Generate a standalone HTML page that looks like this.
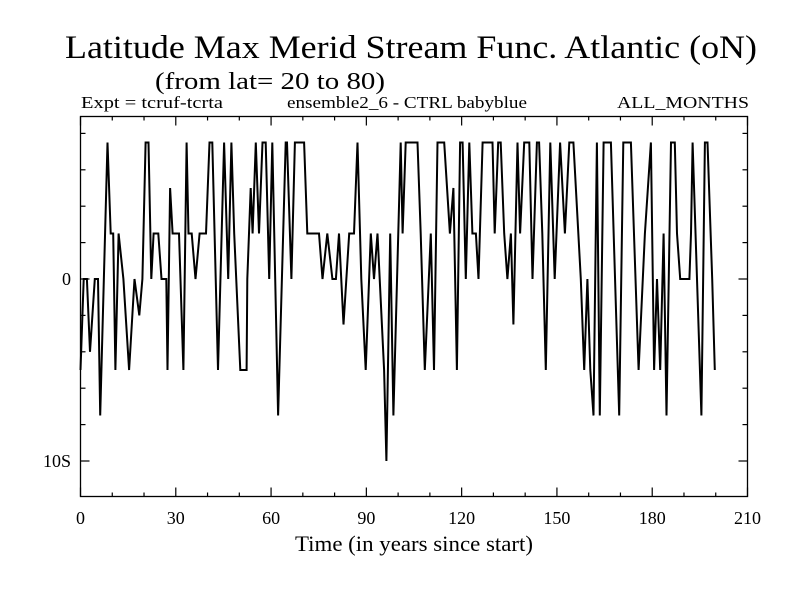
<!DOCTYPE html>
<html><head><meta charset="utf-8"><style>
html,body{margin:0;padding:0;background:#fff}
svg text{font-family:"Liberation Serif",serif;fill:#000}
</style></head><body>
<svg id="chart" width="800" height="600">
<text x="65" y="58" font-size="33" textLength="692" lengthAdjust="spacingAndGlyphs">Latitude Max Merid Stream Func. Atlantic (oN)</text>
<text x="155" y="89" font-size="24" textLength="230" lengthAdjust="spacingAndGlyphs">(from lat= 20 to 80)</text>
<text x="81" y="108" font-size="17" textLength="142" lengthAdjust="spacingAndGlyphs">Expt = tcruf-tcrta</text>
<text x="287" y="108" font-size="17" textLength="240" lengthAdjust="spacingAndGlyphs">ensemble2_6 - CTRL babyblue</text>
<text x="617" y="108" font-size="17" textLength="132" lengthAdjust="spacingAndGlyphs">ALL_MONTHS</text>
<rect x="80.5" y="116.5" width="667" height="380" fill="none" stroke="#000" stroke-width="1.3"/>
<g id="axes"></g>
<polyline id="series" fill="none" stroke="#000" stroke-width="2"/>
<text x="295" y="551" font-size="22" textLength="238" lengthAdjust="spacingAndGlyphs">Time (in years since start)</text>
</svg>
<script>
const years=[0,1,2,3,4.5,5.5,6.2,8.5,9.5,10.3,11,12,13.5,15.3,17,18.5,19.5,20.5,21.4,22.3,23,24.5,25.5,27,27.4,28.2,29,31,32.4,33.4,34,35,36.2,37.5,39.5,40.6,41.5,43.3,45.2,46.5,47.5,48.4,50.3,52.3,52.5,53.6,54.2,55.2,56.2,57.3,58.3,59.4,60.4,62.2,64.6,65,66.4,67.5,70.4,71.4,75.1,76.2,77.7,79.3,80.4,81.4,82.8,84.6,86.1,87.2,88.4,89.8,91.4,92.4,93.5,95.6,96.3,97.5,98.5,100.8,101.4,102.4,106.1,107.1,108.4,110.3,111.3,112.4,114.5,116.3,117.4,118.5,119.5,120.3,121.3,122.4,123.4,124.5,125.3,126.6,129.7,130.4,131.5,132.3,133.4,134.4,135.5,136.3,137.6,138.4,139.7,141.3,142.3,143.7,144.4,145.4,146.5,147.9,149.3,151,152.5,153.9,155.2,157.5,158.6,159.6,160.5,161.5,162.6,163.5,164.7,167,169.6,170.9,173.3,175.7,177.7,179.6,180.6,181.5,182.5,183.6,184.5,185.9,187.1,187.8,188.8,191.7,192.2,192.7,195.5,196.6,197.4,198.9,199.7];
const values=[-5,0,0,-4,0,0,-7.5,7.5,2.5,2.5,-5,2.5,0,-5,0,-2,0,7.5,7.5,0,2.5,2.5,0,0,-5,5,2.5,2.5,-5,7.5,2.5,2.5,0,2.5,2.5,7.5,7.5,-5,7.5,0,7.5,2.5,-5,-5,0,5,2.5,7.5,2.5,7.5,7.5,0,7.5,-7.5,7.5,7.5,0,7.5,7.5,2.5,2.5,0,2.5,0,0,2.5,-2.5,2.5,2.5,7.5,0,-5,2.5,0,2.5,-5,-10,2.5,-7.5,7.5,2.5,7.5,7.5,2.5,-5,2.5,-5,7.5,7.5,2.5,5,-5,7.5,7.5,0,7.5,2.5,2.5,0,7.5,7.5,2.5,7.5,7.5,2.5,0,2.5,-2.5,7.5,2.5,7.5,7.5,0,7.5,7.5,2.5,-5,7.5,0,7.5,2.5,7.5,7.5,0,-5,0,-5,-7.5,7.5,-7.5,7.5,7.5,-7.5,7.5,7.5,-5,2.5,7.5,-5,0,-5,2.5,-7.5,7.5,7.5,2.5,0,0,2.5,7.5,-7.5,7.5,7.5,0,-5];
const xTicks=[0,30,60,90,120,150,180,210];
const yTickVals=[0,-10];
const yTickLabels=["0","10S"];
const X=t=>80.5+t*(667/210);
const Y=v=>279-v*18.2;
const svg=document.getElementById('chart'),g=document.getElementById('axes'),NS='http://www.w3.org/2000/svg';
function line(x1,y1,x2,y2,name){const l=document.createElementNS(NS,'line');l.setAttribute('x1',x1);l.setAttribute('y1',y1);l.setAttribute('x2',x2);l.setAttribute('y2',y2);l.setAttribute('stroke','#000');l.setAttribute('stroke-width','1.2');


g.appendChild(l);}
function text(x,y,s,anchor,name){const t=document.createElementNS(NS,'text');t.setAttribute('x',x);t.setAttribute('y',y);t.setAttribute('font-size','18');t.setAttribute('text-anchor',anchor);t.textContent=s;


g.appendChild(t);}
for(let t=0;t<=210;t+=10){const x=X(t);const maj=t%30===0;const L=maj?9:4;line(x,496.5,x,496.5-L,'x-tick');line(x,116.5,x,116.5+L,'x-tick-top');}
xTicks.forEach(t=>text(X(t),524,String(t),'middle','x-tick-label'));
for(let v=-12;v<=8;v+=2){const y=Y(v);if(y<117||y>496)continue;const maj=v%10===0;const L=maj?9:5;line(80.5,y,80.5+L,y,'y-tick');line(747.5,y,747.5-L,y,'y-tick-right');}
yTickVals.forEach((v,i)=>text(71,Y(v)+6,yTickLabels[i],'end','y-tick-label'));
document.getElementById('series').setAttribute('points',years.map((t,i)=>X(t).toFixed(1)+','+Y(values[i]).toFixed(1)).join(' '));
</script>
</body></html>
